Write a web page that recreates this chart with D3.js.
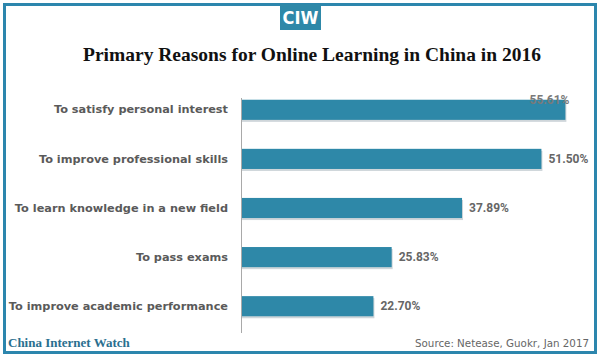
<!DOCTYPE html>
<html>
<head>
<meta charset="utf-8">
<script src="https://cdn.jsdelivr.net/npm/d3@7"></script>
<style>
  body { margin: 0; background: #fff; }
  svg { display: block; }
</style>
</head>
<body>
<div id="chart"></div>
<script>
const reasons = [
  "To satisfy personal interest",
  "To improve professional skills",
  "To learn knowledge in a new field",
  "To pass exams",
  "To improve academic performance"
];
const shares = [55.61, 51.50, 37.89, 25.83, 22.70];
const shareLabels = ["55.61%", "51.50%", "37.89%", "25.83%", "22.70%"];

const W = 600, H = 356;
const barColor = "#2e88a8";
const frameColor = "#2c86ad";

const svg = d3.select("#chart").append("svg")
  .attr("width", W)
  .attr("height", H);

// frame
svg.append("rect")
  .attr("x", 4.5).attr("y", 4.5)
  .attr("width", W - 9).attr("height", H - 8)
  .attr("fill", "none")
  .attr("stroke", frameColor)
  .attr("stroke-width", 3);

// CIW badge
svg.append("rect")
  .attr("x", 280).attr("y", 4)
  .attr("width", 41).attr("height", 26)
  .attr("fill", "#2e88a8");
svg.append("text")
  .attr("x", 300.5).attr("y", 24)
  .attr("text-anchor", "middle")
  .style("font-family", "'Liberation Sans Narrow', 'DejaVu Sans Condensed', sans-serif")
  .style("font-weight", "bold")
  .style("font-size", "18px")
  .style("fill", "#fff")
  .text("CIW");

// title
svg.append("text")
  .attr("x", 312).attr("y", 61)
  .attr("text-anchor", "middle")
  .style("font-family", "'Liberation Serif', serif")
  .style("font-weight", "bold")
  .style("font-size", "19.5px")
  .style("fill", "#111")
  .text("Primary Reasons for Online Learning in China in 2016");

const x = d3.scaleLinear().domain([0, 60]).range([241, 241 + 350]);
const y = d3.scaleBand().domain(reasons).range([85, 331])
  .paddingInner(0.59).paddingOuter(0.3);

const rows = reasons.map((r, i) => ({ reason: r, value: shares[i], label: shareLabels[i] }));

// soft shadow under the bars
svg.selectAll(".shadow")
  .data(rows)
  .enter()
  .append("rect")
  .attr("class", "shadow")
  .attr("x", x(0) + 1)
  .attr("y", d => y(d.reason) + 2)
  .attr("width", d => x(d.value) - x(0))
  .attr("height", y.bandwidth())
  .attr("fill", "#cfd6da");

svg.selectAll(".bar")
  .data(rows)
  .enter()
  .append("rect")
  .attr("class", "bar")
  .attr("x", x(0))
  .attr("y", d => y(d.reason))
  .attr("width", d => x(d.value) - x(0))
  .attr("height", y.bandwidth())
  .attr("fill", barColor);

// category axis
const yAxis = svg.append("g")
  .attr("transform", `translate(${x(0)},0)`)
  .call(d3.axisLeft(y).tickSizeInner(0).tickSizeOuter(0).tickPadding(13));
yAxis.select(".domain")
  .attr("d", "M0.5,98V333")
  .attr("stroke", "#a9a9a9");
yAxis.selectAll("text")
  .style("font-family", "'DejaVu Sans', sans-serif")
  .style("font-weight", "bold")
  .style("font-size", "11.3px")
  .style("fill", "#5a5a5a");

// value labels (first one sits over the bar end like in the source)
svg.selectAll(".val")
  .data(rows)
  .enter()
  .append("text")
  .attr("class", "val")
  .attr("x", (d, i) => i === 0 ? x(d.value) + 4 : x(d.value) + 7)
  .attr("y", (d, i) => i === 0 ? y(d.reason) + 4 : y(d.reason) + y.bandwidth() / 2 + 4)
  .attr("text-anchor", (d, i) => i === 0 ? "end" : "start")
  .style("font-family", "Roboto, sans-serif")
  .style("font-weight", "bold")
  .style("font-size", "12px")
  .style("fill", (d, i) => i === 0 ? "#7a7a7a" : "#666")
  .text(d => d.label);

// footer
svg.append("text")
  .attr("x", 8).attr("y", 347)
  .style("font-family", "'Liberation Serif', serif")
  .style("font-weight", "bold")
  .style("font-size", "13px")
  .style("fill", "#2a6f8f")
  .text("China Internet Watch");

svg.append("text")
  .attr("x", 589).attr("y", 347)
  .attr("text-anchor", "end")
  .style("font-family", "'DejaVu Sans', sans-serif")
  .style("font-size", "10.3px")
  .style("fill", "#666")
  .text("Source: Netease, Guokr, Jan 2017");
</script>
</body>
</html>
